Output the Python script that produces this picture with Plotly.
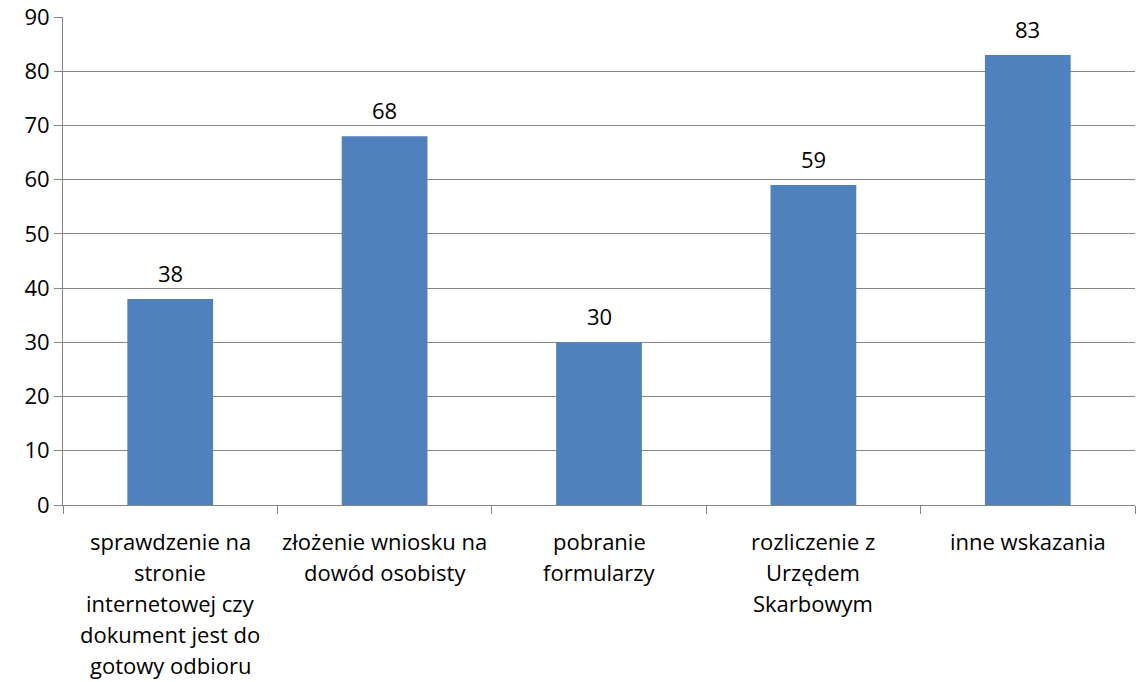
import plotly.graph_objects as go

categories = [
    "sprawdzenie na\nstronie\ninternetowej czy\ndokument jest do\ngotowy odbioru",
    "złożenie wniosku na\ndowód osobisty",
    "pobranie\nformularzy",
    "rozliczenie z\nUrzędem\nSkarbowym",
    "inne wskazania",
]
values = [38, 68, 30, 59, 83]

FONT = "Open Sans"
SIZE = 22
GRID = "#868686"
LINE_STEP = 31

x_keys = [c.replace("\n", " ") for c in categories]

fig = go.Figure(
    go.Bar(
        x=x_keys,
        y=values,
        marker=dict(color="#4F81BD", line=dict(width=0)),
        hoverinfo="x+y",
    )
)

# value labels above each bar
for xk, v in zip(x_keys, values):
    fig.add_annotation(
        x=xk, y=v, xref="x", yref="y",
        text=str(v), showarrow=False,
        yanchor="middle", yshift=26,
        font=dict(family=FONT, size=SIZE, color="#000000"),
    )

# wrapped category labels below the axis, one line at a time
for xk, cat in zip(x_keys, categories):
    for i, line in enumerate(cat.split("\n")):
        fig.add_annotation(
            x=xk, y=0, xref="x", yref="paper",
            text=line, showarrow=False,
            yanchor="middle", yshift=-(36 + i * LINE_STEP),
            font=dict(family=FONT, size=SIZE, color="#000000"),
        )

fig.update_layout(
    width=1146,
    height=682,
    margin=dict(l=63, r=11, t=17, b=177),
    paper_bgcolor="white",
    plot_bgcolor="white",
    bargap=0.6,
    showlegend=False,
    font=dict(family=FONT, size=SIZE, color="#000000"),
)

fig.update_yaxes(
    range=[0, 90],
    dtick=10,
    automargin=False,
    showgrid=True,
    gridcolor=GRID,
    gridwidth=1,
    showline=True,
    linecolor=GRID,
    linewidth=1,
    ticks="outside",
    ticklen=8,
    tickcolor=GRID,
    zeroline=False,
    tickfont=dict(family=FONT, size=SIZE, color="#000000"),
)

fig.update_xaxes(
    automargin=False,
    showgrid=False,
    showline=True,
    linecolor=GRID,
    linewidth=1,
    ticks="outside",
    tickson="boundaries",
    ticklen=8,
    tickcolor=GRID,
    showticklabels=False,
)

fig.write_html("out.html")
